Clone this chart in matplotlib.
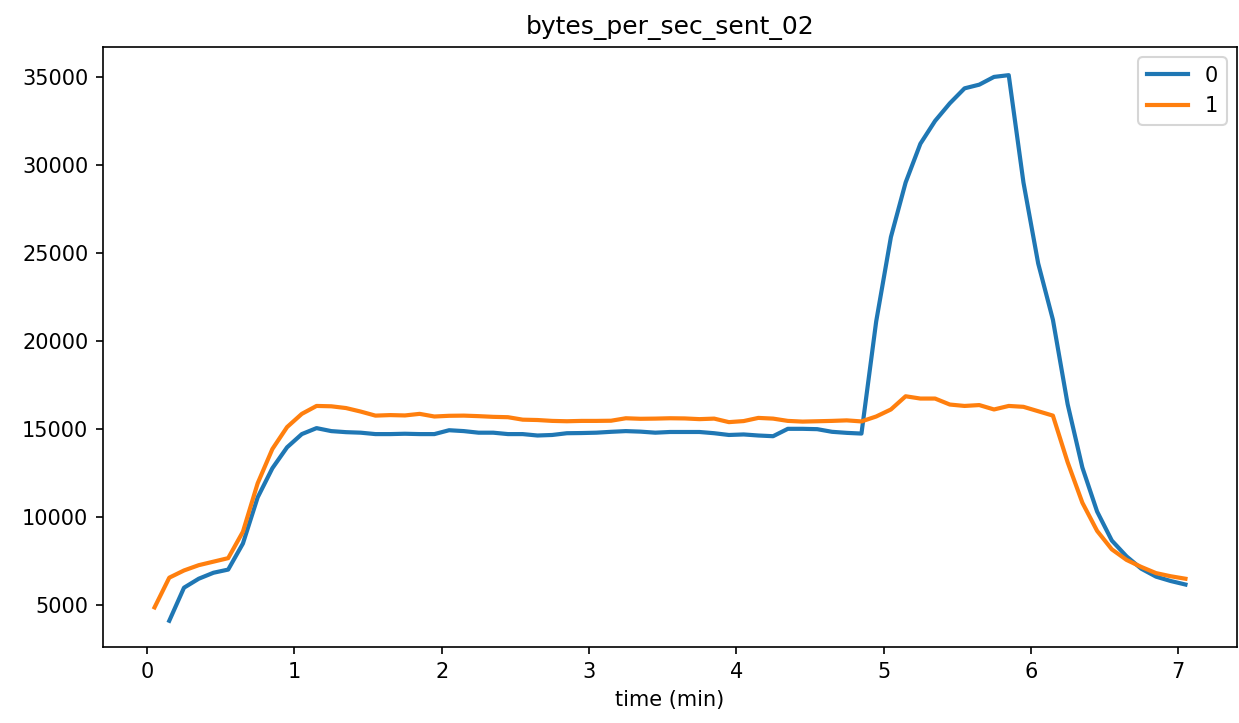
import numpy as np
import matplotlib.pyplot as plt

# tiempo (min) de cada serie
t0 = np.round(np.arange(0.15, 7.06, 0.1), 2)
t1 = np.round(np.arange(0.05, 7.06, 0.1), 2)

serie0 = [4090, 5970, 6480, 6820, 7000, 8480, 11100, 12760, 13950, 14700,
          15040, 14870, 14810, 14780, 14700, 14700, 14720, 14700, 14700, 14920,
          14870, 14780, 14780, 14700, 14700, 14620, 14650, 14750, 14760, 14780,
          14830, 14870, 14840, 14780, 14820, 14820, 14820, 14750, 14650, 14680,
          14620, 14580, 15000, 15000, 14980, 14830, 14770, 14730, 21100, 25900,
          29000, 31200, 32500, 33500, 34350, 34560, 35000, 35100, 29000, 24400,
          21200, 16400, 12800, 10300, 8650, 7750, 7050, 6600, 6350, 6150]

serie1 = [4850, 6540, 6950, 7250, 7450, 7650, 9150, 11900, 13850, 15100,
          15850, 16300, 16280, 16180, 15980, 15750, 15780, 15760, 15850, 15700,
          15740, 15750, 15720, 15680, 15660, 15520, 15500, 15450, 15430, 15450,
          15450, 15460, 15600, 15570, 15580, 15600, 15590, 15550, 15580, 15380,
          15440, 15620, 15580, 15450, 15410, 15430, 15450, 15480, 15420, 15700,
          16100, 16850, 16720, 16720, 16380, 16300, 16350, 16100, 16300, 16250,
          16000, 15750, 13100, 10800, 9200, 8150, 7550, 7150, 6800, 6620, 6480]

fig = plt.figure(figsize=(1239/150, 723/150), dpi=150)
ax = fig.add_axes([103/1239, 1-647/723, (1237-103)/1239, (647-47)/723])

ax.plot(t0, serie0, color='#1f77b4', lw=2, label='0')
ax.plot(t1, serie1, color='#ff7f0e', lw=2, label='1')

ax.set_xlim(-0.3, 7.4)
ax.set_ylim(2600, 36700)
ax.set_xticks(range(0, 8))
ax.set_xlabel('time (min)')
ax.set_title('bytes_per_sec_sent_02')
ax.legend(loc='upper right')
ax.spines['top'].set_visible(True)

fig.savefig('out.png', dpi=150)
